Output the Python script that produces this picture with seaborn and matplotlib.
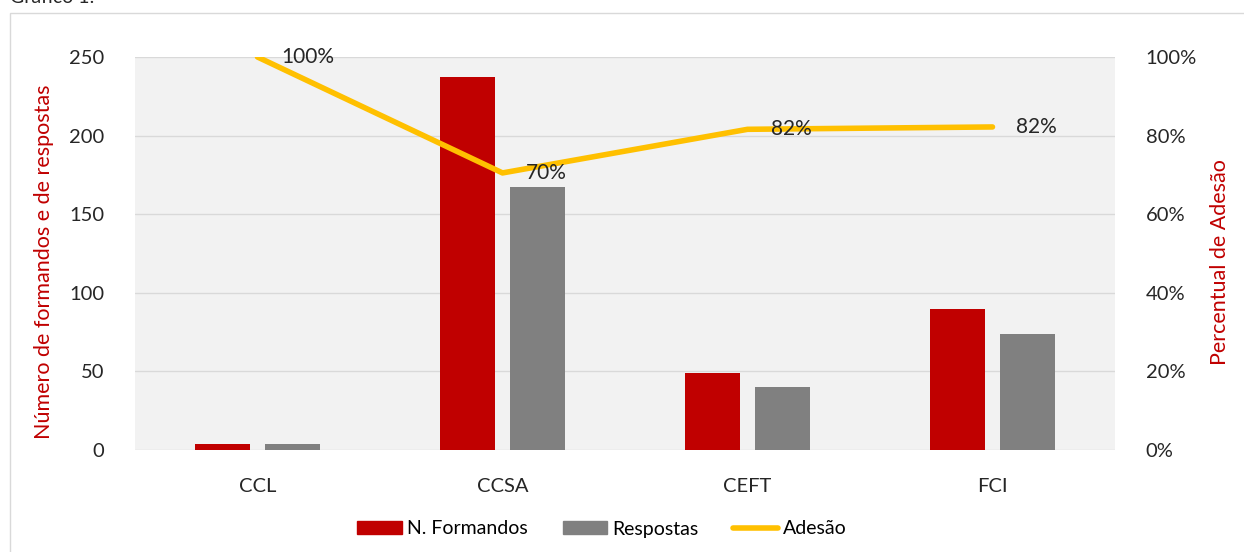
import matplotlib
matplotlib.use("Agg")
import matplotlib.pyplot as plt
import matplotlib.patches as mpatches
from matplotlib.lines import Line2D
import seaborn as sns
import numpy as np
import pandas as pd

categorias = ["CCL", "CCSA", "CEFT", "FCI"]
formandos = [4, 237, 49, 90]
respostas = [4, 167, 40, 74]
adesao = [1.00, 0.705, 0.816, 0.822]
adesao_labels = ["100%", "70%", "82%", "82%"]

vermelho = "#C00000"
cinza = "#808080"
amarelo = "#FFC000"
texto = "#262626"

sns.set_theme(style="white")
plt.rcParams["font.family"] = ["Lato", "DejaVu Sans"]

data = pd.DataFrame({
    "Curso": categorias * 2,
    "Valor": formandos + respostas,
    "Serie": ["N. Formandos"] * 4 + ["Respostas"] * 4,
})

fig = plt.figure(figsize=(12.44, 5.52), dpi=100)
ax = fig.add_axes([135 / 1244, 1 - 450 / 552, 980 / 1244, 393 / 552])
ax.set_facecolor("#F2F2F2")

sns.barplot(data, x="Curso", y="Valor", hue="Serie", palette=[vermelho, cinza],
            width=0.57, gap=0.22, ax=ax, legend=False, saturation=1, linewidth=0)
ax.set_xlim(-0.5, 3.5)
ax.set_ylim(0, 250)
ax.set_yticks(range(0, 251, 50))
ax.yaxis.grid(True, color="#D9D9D9", lw=1)
ax.set_axisbelow(True)
for s in ax.spines.values():
    s.set_visible(False)
ax.tick_params(axis="both", length=0, labelsize=14.5, colors=texto)
ax.tick_params(axis="y", pad=22)
ax.tick_params(axis="x", pad=20)
ax.set_xlabel("")
ax.set_ylabel("Número de formandos e de respostas", color=vermelho, fontsize=15.5)
ax.yaxis.set_label_coords(-0.083, 0.478)

ax2 = ax.twinx()
x = np.arange(len(categorias))
sns.lineplot(x=x, y=adesao, ax=ax2, color=amarelo, lw=4, legend=False)
ax2.set_ylim(0, 1.0)
ax2.set_yticks(np.arange(0, 1.01, 0.2))
ax2.set_yticklabels([f"{int(round(v * 100))}%" for v in np.arange(0, 1.01, 0.2)])
for s in ax2.spines.values():
    s.set_visible(False)
ax2.tick_params(axis="y", length=0, labelsize=14.5, colors=texto, pad=22)
ax2.set_ylabel("Percentual de Adesão", color=vermelho, fontsize=15.5)
ax2.yaxis.set_label_coords(1.097, 0.478)
ax2.grid(False)
for xi, yi, lab in zip(x, adesao, adesao_labels):
    ax2.annotate(lab, (xi, yi), xytext=(17, 0), textcoords="offset points",
                 ha="left", va="center", fontsize=15, color=texto, clip_on=False)

handles = [
    mpatches.Patch(color=vermelho, label="N. Formandos"),
    mpatches.Patch(color=cinza, label="Respostas"),
    Line2D([0], [0], color=amarelo, lw=4, label="Adesão"),
]
fig.legend(handles=handles, loc="center", bbox_to_anchor=(602 / 1244, 1 - 529 / 552),
           ncol=3, frameon=False, fontsize=14, handlelength=2.3, handleheight=0.67,
           columnspacing=1.8, handletextpad=0.25, labelcolor="black")

fig.patches.append(mpatches.Rectangle((10 / 1244, -0.01), 1.0, 1 - 13 / 552 + 0.01,
                                      transform=fig.transFigure, fill=False,
                                      edgecolor="#D9D9D9", lw=1))
fig.text(10 / 1244, 1 - 3 / 552, "Gráfico 1:", fontsize=14, color=texto, va="baseline")

fig.savefig("out.png", dpi=100)
